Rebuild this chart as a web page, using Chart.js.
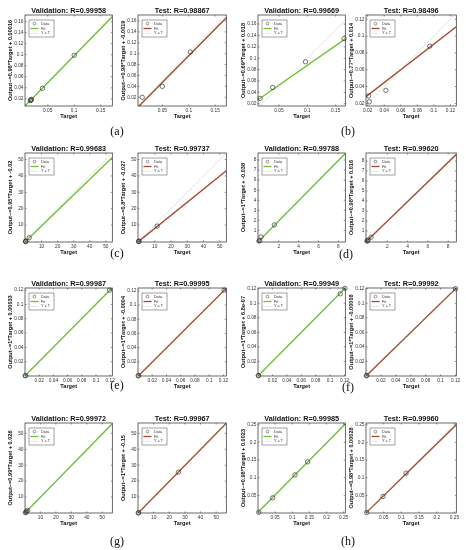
<!DOCTYPE html>
<html>
<head>
<meta charset="utf-8">
<script src="https://cdn.jsdelivr.net/npm/chart.js@4.4.0/dist/chart.umd.min.js"></script>
<style>
  body { margin: 0; background: #fff; }
  #fig { position: relative; width: 466px; height: 550px; overflow: hidden; background: #fff; }
  #fig canvas { position: absolute; }
  .cap { position: absolute; font-family: "Liberation Serif", "DejaVu Serif", serif; font-size: 12px; color: #111; transform: translate(-50%, -50%); }
</style>
</head>
<body>
<div id="fig"></div>
<script>
// panels: a-val, a-test, b-val, b-test, c-val, ... h-test
const titles = [
  "Validation: R=0.99958", "Test: R=0.98867", "Validation: R=0.99669", "Test: R=0.98496",
  "Validation: R=0.99683", "Test: R=0.99737", "Validation: R=0.99788", "Test: R=0.99620",
  "Validation: R=0.99987", "Test: R=0.99995", "Validation: R=0.99949", "Test: R=0.99992",
  "Validation: R=0.99972", "Test: R=0.99967", "Validation: R=0.99985", "Test: R=0.99960"
];
const yLabels = [
  "Output~=0.98*Target + 0.00016", "Output~=0.98*Target + -0.0019",
  "Output~=0.69*Target + 0.018", "Output~=0.77*Target + 0.014",
  "Output~=0.95*Target + -0.02", "Output~=0.8*Target + -0.027",
  "Output~=1*Target + -0.038", "Output~=0.98*Target + 0.016",
  "Output~=1*Target + 0.00033", "Output~=1*Target + -0.0004",
  "Output~=1*Target + 6.8e-07", "Output~=1*Target + -0.00008",
  "Output~=0.99*Target + 0.026", "Output~=1*Target + -0.15",
  "Output~=0.98*Target + 0.0023", "Output~=0.98*Target + 0.00028"
];
const captions = ["(a)", "(b)", "(c)", "(d)", "(e)", "(f)", "(g)", "(h)"];

const xMin = [0.007, 0.004, 0.013, 0.018, -0.3, -0.3, -0.1, -0.1, 0, 0, 0, 0, 0, 0, 0, 0];
const xMax = [0.172, 0.171, 0.167, 0.127, 54, 54, 8.7, 8.8, 0.123, 0.124, 0.121, 0.121, 56.5, 56.5, 0.255, 0.255];
const yMin = [0.007, 0.004, 0.016, 0.017, -0.3, -0.3, -0.15, -0.1, 0, 0, 0, 0, 0, 0, 0, 0];
const yMax = [0.172, 0.171, 0.176, 0.125, 54, 54, 8.7, 8.8, 0.123, 0.124, 0.121, 0.121, 56.5, 56.5, 0.255, 0.255];

const t016 = [0.02, 0.04, 0.06, 0.08, 0.1, 0.12, 0.14, 0.16];
const t012 = [0.02, 0.04, 0.06, 0.08, 0.1, 0.12];
const t015 = [0.05, 0.1, 0.15];
const t025 = [0.05, 0.1, 0.15, 0.2, 0.25];
const t50 = [10, 20, 30, 40, 50];
const t8even = [2, 4, 6, 8];
const t8 = [1, 2, 3, 4, 5, 6, 7, 8];
const xTicks = [t015, t015, t015, t012, t50, t50, t8even, t8even, t012, t012, t012, t012, t50, t50, t025, t025];
const yTicks = [t016, t016, t016, t012, t50, t50, t8, t8, t012, t012, t012, t012, t50, t50, t025, t025];

// fit line value at xMin and at xMax
const fitY0 = [0.007, 0.002, 0.027, 0.028, -0.3, -0.27, -0.14, -0.08, 0.0003, -0.0004, 0, -0.0001, 0.03, -0.15, 0.0023, 0.0003];
const fitY1 = [0.169, 0.166, 0.134, 0.111, 51.3, 43.2, 8.66, 8.64, 0.1233, 0.1236, 0.121, 0.1209, 55.96, 56.35, 0.2522, 0.2502];

const ptsX = [
  [0.017, 0.018, 0.019, 0.0185, 0.04, 0.1],
  [0.012, 0.05, 0.103],
  [0.0167, 0.0389, 0.0967, 0.1648],
  [0.0212, 0.022, 0.042, 0.095],
  [0.05, 0.2, 0.1, 2.3],
  [0.05, 0.2, 0.3, 11.5],
  [0, 0.05, 0.2, 1.55],
  [0, 0.05, 0.1, 0.4],
  [0.0003, 0.0006, 0.119],
  [0.0003, 0.0008, 0.121],
  [0.0004, 0.0008, 0.114, 0.1205],
  [0.0005, 0.001, 0.12],
  [0.3, 0.6, 1, 1.6],
  [0.2, 0.4, 25.8],
  [0.002, 0.043, 0.108, 0.145],
  [0.002, 0.048, 0.113]
];
const ptsY = [
  [0.017, 0.0175, 0.019, 0.018, 0.039, 0.099],
  [0.02, 0.04, 0.103],
  [0.0294, 0.0485, 0.0938, 0.1344],
  [0.029, 0.022, 0.0356, 0.088],
  [0, 0.1, 0.2, 2.3],
  [0, 0.1, 0.2, 9.4],
  [-0.05, 0, 0.35, 1.55],
  [0, 0.02, 0.1, 0.38],
  [0.0004, 0.0005, 0.12],
  [0.0002, 0.0006, 0.121],
  [0.0004, 0.0007, 0.113, 0.1205],
  [0.0003, 0.0008, 0.12],
  [0.2, 0.5, 1, 1.6],
  [0.05, 0.2, 25.6],
  [0.002, 0.043, 0.108, 0.145],
  [0.001, 0.047, 0.113]
];

// layout of the axes boxes on the page
const boxCols = [[25, 113], [138, 227], [258, 346], [366, 457]];
const boxRows = [[15, 106], [153, 242], [288, 376], [423, 513]];
const capPos = [[117, 131], [348, 131], [117, 253], [346, 254], [117, 385], [348, 387], [117, 541], [348, 541]];

const FONT = "'Liberation Sans', Arial, sans-serif";
Chart.defaults.font.family = FONT;

const green = '#6cc536';
const brown = '#a24a2a';

// MATLAB-like box, inward ticks, title and legend
const matlabBox = {
  id: 'matlabBox',
  afterDraw(chart, args, opts) {
    const { ctx, chartArea: a, scales } = chart;
    ctx.save();
    ctx.strokeStyle = '#333';
    ctx.lineWidth = 0.5;
    ctx.beginPath();
    scales.x.ticks.forEach(t => {
      const px = scales.x.getPixelForValue(t.value);
      ctx.moveTo(px, a.bottom); ctx.lineTo(px, a.bottom - 1.6);
      ctx.moveTo(px, a.top); ctx.lineTo(px, a.top + 1.6);
    });
    scales.y.ticks.forEach(t => {
      const py = scales.y.getPixelForValue(t.value);
      ctx.moveTo(a.left, py); ctx.lineTo(a.left + 1.6, py);
      ctx.moveTo(a.right, py); ctx.lineTo(a.right - 1.6, py);
    });
    ctx.stroke();
    ctx.lineWidth = 0.7;
    ctx.strokeStyle = '#2a2a2a';
    ctx.strokeRect(a.left, a.top, a.right - a.left, a.bottom - a.top);

    // title
    ctx.fillStyle = '#111';
    ctx.font = 'bold 7.3px ' + FONT;
    ctx.textAlign = 'center';
    ctx.textBaseline = 'alphabetic';
    ctx.fillText(opts.title, (a.left + a.right) / 2, a.top - 2.5);

    // legend
    const lx = a.left + 4, ly = a.top + 5, lw = 25, lh = 17;
    ctx.fillStyle = '#fff';
    ctx.fillRect(lx, ly, lw, lh);
    ctx.lineWidth = 0.5;
    ctx.strokeStyle = '#444';
    ctx.strokeRect(lx, ly, lw, lh);
    ctx.beginPath();
    ctx.arc(lx + 5.5, ly + 3.6, 1.4, 0, Math.PI * 2);
    ctx.strokeStyle = '#333';
    ctx.stroke();
    ctx.beginPath();
    ctx.moveTo(lx + 1.5, ly + 8.5); ctx.lineTo(lx + 9.5, ly + 8.5);
    ctx.strokeStyle = opts.fit;
    ctx.lineWidth = 1.3;
    ctx.stroke();
    ctx.beginPath();
    ctx.setLineDash([0.8, 0.8]);
    ctx.moveTo(lx + 1.5, ly + 13.4); ctx.lineTo(lx + 9.5, ly + 13.4);
    ctx.strokeStyle = '#999';
    ctx.lineWidth = 0.5;
    ctx.stroke();
    ctx.setLineDash([]);
    ctx.fillStyle = '#333';
    ctx.font = '3.8px ' + FONT;
    ctx.textAlign = 'left';
    ctx.textBaseline = 'middle';
    ctx.fillText('Data', lx + 12, ly + 3.6);
    ctx.fillText('Fit', lx + 12, ly + 8.5);
    ctx.fillText('Y = T', lx + 12, ly + 13.4);
    ctx.restore();
  }
};

const fig = document.getElementById('fig');

function makePanel(i) {
  const row = Math.floor(i / 4), col = i % 4;
  const [bl, br] = boxCols[col];
  const [bt, bb] = boxRows[row];
  const cv = document.createElement('canvas');
  const w = br - bl + 28, h = bb - bt + 34;
  cv.width = w; cv.height = h;
  cv.style.left = (bl - 24) + 'px';
  cv.style.top = (bt - 14) + 'px';
  cv.style.width = w + 'px';
  cv.style.height = h + 'px';
  fig.appendChild(cv);

  const fitCol = i % 2 ? brown : green;
  const lo = Math.min(xMin[i], yMin[i]);
  const hi = Math.max(xMax[i], yMax[i]);
  const pts = ptsX[i].map((x, k) => ({ x: x, y: ptsY[i][k] }));

  new Chart(cv, {
    type: 'scatter',
    data: {
      datasets: [
        {
          type: 'line',
          data: [{ x: xMin[i], y: fitY0[i] }, { x: xMax[i], y: fitY1[i] }],
          borderColor: fitCol, borderWidth: 1.4, pointRadius: 0, order: 3
        },
        {
          type: 'line',
          data: [{ x: lo, y: lo }, { x: hi, y: hi }],
          borderColor: '#9a9a9a', borderWidth: 0.6, borderDash: [1, 1.2], pointRadius: 0, order: 2
        },
        {
          data: pts,
          pointRadius: 2.2, pointBorderWidth: 0.7,
          borderColor: '#3a3a3a', backgroundColor: 'rgba(0,0,0,0)',
          order: 1, clip: 3
        }
      ]
    },
    options: {
      responsive: false,
      animation: false,
      events: [],
      layout: { padding: { top: 14, right: 4, left: 0, bottom: 0 } },
      plugins: {
        legend: { display: false },
        tooltip: { enabled: false },
        matlabBox: { title: titles[i], fit: fitCol }
      },
      scales: {
        x: {
          type: 'linear',
          min: xMin[i], max: xMax[i],
          afterBuildTicks: s => { s.ticks = xTicks[i].map(v => ({ value: v })); },
          afterFit: s => { s.height = 20; s.paddingLeft = 0; s.paddingRight = 0; },
          grid: { display: false, drawTicks: false },
          border: { display: false },
          ticks: {
            autoSkip: false, maxRotation: 0, padding: 1.5,
            color: '#333', font: { size: 4.8 },
            callback: v => String(v)
          },
          title: {
            display: true, text: 'Target', color: '#111',
            font: { size: 5.6, weight: 'bold' },
            padding: { top: 0, bottom: 6.6 }
          }
        },
        y: {
          type: 'linear',
          min: yMin[i], max: yMax[i],
          afterBuildTicks: s => { s.ticks = yTicks[i].map(v => ({ value: v })); },
          afterFit: s => { s.width = 24; s.paddingTop = 0; s.paddingBottom = 0; },
          grid: { display: false, drawTicks: false },
          border: { display: false },
          ticks: {
            autoSkip: false, padding: 1.5,
            color: '#333', font: { size: 4.8 },
            callback: v => String(v)
          },
          title: {
            display: true, text: yLabels[i], color: '#111',
            font: { size: 5.6, weight: 'bold' },
            padding: { top: 6.5, bottom: 0 }
          }
        }
      }
    },
    plugins: [matlabBox]
  });
}

for (let i = 0; i < titles.length; i++) makePanel(i);

captions.forEach((c, k) => {
  const d = document.createElement('div');
  d.className = 'cap';
  d.textContent = c;
  d.style.left = capPos[k][0] + 'px';
  d.style.top = capPos[k][1] + 'px';
  fig.appendChild(d);
});
</script>
</body>
</html>
